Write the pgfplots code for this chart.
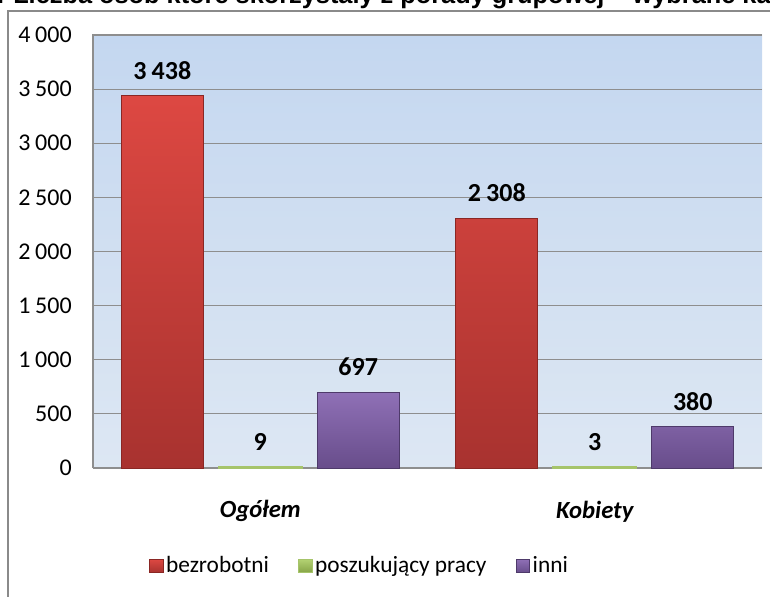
\documentclass[border=0pt]{standalone}
\usepackage{pgfplots}
\pgfplotsset{compat=1.18}
\usepackage{fontspec}
\setmainfont{Carlito}
\newfontfamily\titlefont{Liberation Sans}
\definecolor{gridgray}{HTML}{8E8E8E}
\definecolor{framegray}{HTML}{8A8A8A}
\definecolor{bgtop}{HTML}{C4D7F0}
\definecolor{bgbot}{HTML}{DDE7F3}
\definecolor{redtop}{HTML}{DD4842}
\definecolor{redbot}{HTML}{A8322F}
\definecolor{redborder}{HTML}{8A2724}
\definecolor{greentop}{HTML}{B3D273}
\definecolor{greenbot}{HTML}{86A447}
\definecolor{greenborder}{HTML}{A6C46A}
\definecolor{purptop}{HTML}{8F70B6}
\definecolor{purpbot}{HTML}{684D8B}
\definecolor{purpborder}{HTML}{4E3A6A}
\begin{document}
\begin{tikzpicture}
\useasboundingbox (0pt,0pt) rectangle (577.5pt,447pt);
\clip (0pt,0pt) rectangle (577.5pt,447pt);
\node[anchor=base west, inner sep=0pt, font=\titlefont\bfseries\fontsize{19}{22}\selectfont] at (9.75pt,444.3pt) {Liczba osób które skorzystały z porady grupowej – wybrane kategorie};
\node[anchor=base east, inner sep=0pt, font=\titlefont\bfseries\fontsize{19}{22}\selectfont] at (5.5pt,444.3pt) {Wykres nr};
\draw[color=framegray, line width=1.1pt] (6pt,-5pt) -- (6pt,438.75pt) -- (590pt,438.75pt);
\begin{axis}[
  at={(69.75pt,96pt)}, anchor=south west,
  scale only axis, width=501.75pt, height=324.75pt,
  ymin=0, ymax=4000, xmin=-0.5, xmax=1.5,
  ytick={0,500,...,4000},
  xtick={0,1}, xticklabels={Ogółem,Kobiety},
  ymajorgrids, grid style={gridgray, line width=0.9pt},
  axis line style={draw=none},
  major tick length=0pt, tick style={draw=none},
  axis background/.style={top color=bgtop, bottom color=bgbot},
  ybar, bar width=0.245,
  /pgf/number format/assume math mode=true,
  /pgf/number format/1000 sep={\kern0.2em},
  yticklabel style={font=\fontsize{18}{20}\selectfont, anchor=east, inner sep=0pt, xshift=-15.75pt},
  xticklabel style={font=\bfseries\itshape\fontsize{18.5}{20}\selectfont, anchor=center, inner sep=0pt, yshift=-32.5pt},
  nodes near coords,
  every node near coord/.append style={font=\bfseries\fontsize{19.5}{22}\selectfont, text=black, anchor=center, yshift=19pt},
  legend columns=3,
  legend style={at={(0.399,-0.226)}, anchor=center, draw=none, fill=none,
    font=\fontsize{17.5}{20}\selectfont,
    /tikz/every even column/.append style={column sep=20pt}},
  legend image code/.code={\draw[#1, line width=0.6pt] (0pt,-5pt) rectangle (10pt,5pt);},
  after end axis/.code={
    \draw[gridgray, line width=1pt] (rel axis cs:0,0) -- (rel axis cs:0,1) -- (rel axis cs:1,1);
  },
]
\addplot[bar shift=-0.293, draw=redborder, line width=0.6pt, top color=redtop, bottom color=redbot]
  coordinates {(0,3438) (1,2308)};
\addplot[bar shift=0, draw=greenborder, line width=2.2pt, top color=greentop, bottom color=greenbot]
  coordinates {(0,9) (1,3)};
\addplot[bar shift=0.293, draw=purpborder, line width=0.6pt, top color=purptop, bottom color=purpbot]
  coordinates {(0,697) (1,380)};
\legend{bezrobotni, poszukujący pracy, inni}
\end{axis}
\end{tikzpicture}
\end{document}
